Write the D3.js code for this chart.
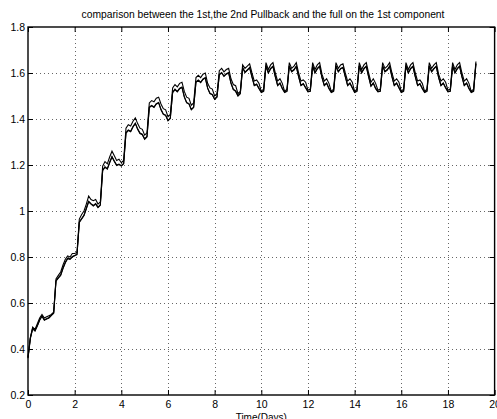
<!DOCTYPE html>
<html><head><meta charset="utf-8">
<script src="https://cdn.jsdelivr.net/npm/d3@7"></script>
<style>body{margin:0;background:#fff}svg{display:block}</style>
</head><body><svg id="c" width="497" height="419"></svg>
<script>
const titleText = "comparison between the 1st,the 2nd Pullback and the full on the 1st component";
const xLabelText = "Time(Days)";
const xTickValues = [0,2,4,6,8,10,12,14,16,18,20];
const xTickLabels = ["0","2","4","6","8","10","12","14","16","18","20"];
const yTickValues = [0.2,0.4,0.6,0.8,1.0,1.2,1.4,1.6,1.8];
const yTickLabels = ["0.2","0.4","0.6","0.8","1","1.2","1.4","1.6","1.8"];
const timeStep = 0.1; // days between samples

const firstPullback = [
 0.365,0.45,0.495,0.485,0.51,0.535,0.55,0.535,0.54,0.545,
 0.55,0.56,0.705,0.72,0.735,0.765,0.79,0.805,0.80,0.815,
 0.815,0.82,0.965,0.985,1.0,1.03,1.065,1.05,1.045,1.05,
 1.03,1.04,1.195,1.215,1.205,1.235,1.26,1.24,1.22,1.225,
 1.21,1.22,1.36,1.375,1.37,1.39,1.405,1.38,1.36,1.355,
 1.33,1.34,1.47,1.48,1.475,1.49,1.495,1.465,1.445,1.44,
 1.41,1.42,1.535,1.55,1.54,1.555,1.56,1.52,1.495,1.49,
 1.46,1.47,1.58,1.59,1.58,1.595,1.60,1.555,1.535,1.53,
 1.50,1.51,1.61,1.62,1.605,1.615,1.62,1.575,1.55,1.545,
 1.51,1.52,1.635,1.62,1.63,1.64,1.60,1.565,1.57,1.555,
 1.52,1.53,1.645,1.615,1.635,1.645,1.60,1.565,1.575,1.555,
 1.52,1.53,1.645,1.62,1.63,1.645,1.60,1.565,1.57,1.56,
 1.525,1.53,1.645,1.615,1.635,1.645,1.595,1.565,1.575,1.555,
 1.52,1.53,1.645,1.62,1.635,1.64,1.60,1.565,1.575,1.56,
 1.52,1.53,1.645,1.615,1.635,1.645,1.60,1.56,1.575,1.555,
 1.525,1.53,1.645,1.62,1.63,1.645,1.60,1.565,1.575,1.56,
 1.52,1.53,1.645,1.615,1.635,1.645,1.60,1.565,1.57,1.555,
 1.52,1.53,1.645,1.62,1.635,1.645,1.595,1.565,1.575,1.56,
 1.525,1.53,1.645,1.615,1.635,1.645,1.60,1.565,1.575,1.555,
 1.52,1.53,1.65
];
const secondPullback = [
 0.36,0.445,0.488,0.478,0.50,0.525,0.542,0.525,0.53,0.535,
 0.545,0.555,0.695,0.708,0.72,0.75,0.775,0.793,0.79,0.80,
 0.805,0.81,0.95,0.965,0.98,1.01,1.04,1.03,1.022,1.03,
 1.015,1.025,1.175,1.19,1.182,1.21,1.235,1.215,1.198,1.202,
 1.195,1.205,1.338,1.35,1.345,1.365,1.38,1.355,1.337,1.332,
 1.312,1.322,1.45,1.457,1.45,1.465,1.47,1.44,1.42,1.415,
 1.392,1.402,1.515,1.528,1.518,1.532,1.537,1.495,1.47,1.465,
 1.44,1.45,1.56,1.568,1.558,1.572,1.578,1.533,1.51,1.505,
 1.485,1.495,1.592,1.60,1.585,1.595,1.60,1.555,1.528,1.52,
 1.50,1.51,1.622,1.602,1.612,1.622,1.582,1.545,1.55,1.532,
 1.515,1.52,1.63,1.60,1.618,1.628,1.583,1.545,1.555,1.532,
 1.515,1.52,1.63,1.605,1.613,1.628,1.583,1.545,1.552,1.535,
 1.518,1.52,1.63,1.60,1.618,1.628,1.58,1.545,1.555,1.532,
 1.515,1.52,1.63,1.605,1.618,1.623,1.583,1.545,1.555,1.535,
 1.515,1.52,1.63,1.60,1.618,1.628,1.583,1.542,1.555,1.532,
 1.518,1.52,1.63,1.605,1.613,1.628,1.583,1.545,1.555,1.535,
 1.515,1.52,1.63,1.60,1.618,1.628,1.583,1.545,1.552,1.532,
 1.515,1.52,1.63,1.605,1.618,1.628,1.58,1.545,1.555,1.535,
 1.518,1.52,1.63,1.60,1.618,1.628,1.583,1.545,1.555,1.532,
 1.515,1.52,1.64
];
const fullModel = [
 0.362,0.447,0.49,0.48,0.502,0.527,0.544,0.527,0.532,0.537,
 0.547,0.557,0.697,0.71,0.722,0.752,0.777,0.795,0.792,0.802,
 0.807,0.812,0.952,0.967,0.982,1.012,1.042,1.032,1.024,1.032,
 1.017,1.027,1.177,1.192,1.184,1.212,1.237,1.217,1.2,1.204,
 1.197,1.207,1.34,1.352,1.347,1.367,1.382,1.357,1.339,1.334,
 1.314,1.324,1.452,1.459,1.452,1.467,1.472,1.442,1.422,1.417,
 1.394,1.404,1.517,1.53,1.52,1.534,1.539,1.497,1.472,1.467,
 1.442,1.452,1.562,1.57,1.56,1.574,1.58,1.535,1.512,1.507,
 1.487,1.497,1.594,1.602,1.587,1.597,1.602,1.557,1.53,1.522,
 1.502,1.512,1.624,1.604,1.614,1.624,1.584,1.547,1.552,1.534,
 1.517,1.522,1.632,1.602,1.62,1.63,1.585,1.547,1.557,1.534,
 1.517,1.522,1.632,1.607,1.615,1.63,1.585,1.547,1.554,1.537,
 1.52,1.522,1.632,1.602,1.62,1.63,1.582,1.547,1.557,1.534,
 1.517,1.522,1.632,1.607,1.62,1.625,1.585,1.547,1.557,1.537,
 1.517,1.522,1.632,1.602,1.62,1.63,1.585,1.544,1.557,1.534,
 1.52,1.522,1.632,1.607,1.615,1.63,1.585,1.547,1.557,1.537,
 1.517,1.522,1.632,1.602,1.62,1.63,1.585,1.547,1.554,1.534,
 1.517,1.522,1.632,1.607,1.62,1.63,1.582,1.547,1.557,1.537,
 1.52,1.522,1.632,1.602,1.62,1.63,1.585,1.547,1.557,1.534,
 1.517,1.522,1.642
];

const svg = d3.select("#c");
const W = 497, H = 419;
const mLeft = 28, mRight = 494.6, mTop = 27, mBottom = 395;
const x = d3.scaleLinear().domain([0, 20]).range([mLeft, mRight]);
const y = d3.scaleLinear().domain([0.2, 1.8]).range([mBottom, mTop]);
const font = "'Liberation Sans', Arial, Helvetica, sans-serif";

svg.append("rect").attr("width", W).attr("height", H).attr("fill", "#fff");

// grid
const grid = svg.append("g").attr("stroke", "#666").attr("stroke-width", 1)
  .attr("stroke-dasharray", "1,3").attr("shape-rendering", "crispEdges");
xTickValues.slice(1, -1).forEach(v => {
  grid.append("line").attr("x1", Math.round(x(v)) + 0.5).attr("x2", Math.round(x(v)) + 0.5)
    .attr("y1", mTop).attr("y2", mBottom);
});
yTickValues.slice(1, -1).forEach(v => {
  grid.append("line").attr("y1", Math.round(y(v)) + 0.5).attr("y2", Math.round(y(v)) + 0.5)
    .attr("x1", mLeft).attr("x2", mRight);
});

// axes with inward ticks
const tl = 5;
const axB = d3.axisBottom(x).tickValues(xTickValues).tickSizeInner(-tl).tickSizeOuter(0)
  .tickFormat((d, i) => xTickLabels[i]).tickPadding(8);
const axT = d3.axisTop(x).tickValues(xTickValues).tickSizeInner(-tl).tickSizeOuter(0).tickFormat("");
const axL = d3.axisLeft(y).tickValues(yTickValues).tickSizeInner(-tl).tickSizeOuter(0)
  .tickFormat((d, i) => yTickLabels[i]).tickPadding(8);
const axR = d3.axisRight(y).tickValues(yTickValues).tickSizeInner(-tl).tickSizeOuter(0).tickFormat("");

function styleAxis(g) {
  g.select(".domain").remove();
  g.selectAll("line").attr("stroke", "#000").attr("stroke-width", 1);
  g.selectAll("text").attr("font-family", font).attr("font-size", 10.5).attr("fill", "#000");
}
svg.append("g").attr("transform", `translate(0,${mBottom})`).call(axB).call(styleAxis)
  .selectAll("text").attr("dy", "0.71em").attr("y", 5.5);
svg.append("g").attr("transform", `translate(0,${mTop})`).call(axT).call(styleAxis);
svg.append("g").attr("transform", `translate(${mLeft},0)`).call(axL).call(styleAxis)
  .selectAll("text").attr("x", -3);
svg.append("g").attr("transform", `translate(${mRight},0)`).call(axR).call(styleAxis);

// series
const line = d3.line().x((d, i) => x(i * timeStep)).y(d => y(d));
[firstPullback, secondPullback, fullModel].forEach(s => {
  svg.append("path").datum(s).attr("d", line).attr("fill", "none")
    .attr("stroke", "#000").attr("stroke-width", 1.1).attr("stroke-linejoin", "miter");
});

// frame
svg.append("rect").attr("x", mLeft).attr("y", mTop).attr("width", mRight - mLeft).attr("height", mBottom - mTop)
  .attr("fill", "none").attr("stroke", "#000").attr("stroke-width", 1.4);

// title and label
svg.append("text").attr("x", 263).attr("y", 18.3).attr("text-anchor", "middle")
  .attr("font-family", font).attr("font-size", 10.3).attr("fill", "#000").text(titleText);
svg.append("text").attr("x", x(10)).attr("y", 421).attr("text-anchor", "middle")
  .attr("font-family", font).attr("font-size", 10).attr("fill", "#000").text(xLabelText);
</script></body></html>
